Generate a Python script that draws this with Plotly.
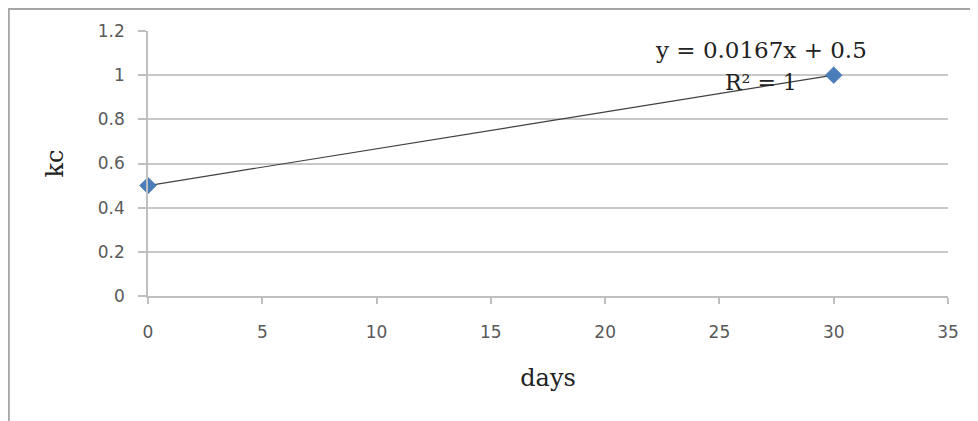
import numpy as np
import plotly.graph_objects as go

days = [0, 30]
kc = [0.5, 1.0]
x_ticks = [0, 5, 10, 15, 20, 25, 30, 35]
y_ticks = [0, 0.2, 0.4, 0.6, 0.8, 1.0, 1.2]

slope, intercept = np.polyfit(days, kc, 1)
r2 = 1.0
fit_x = [min(days), max(days)]
fit_y = [slope * v + intercept for v in fit_x]

fig = go.Figure()
fig.add_trace(go.Scatter(x=fit_x, y=fit_y, mode="lines",
                         line=dict(color="#3f3f3f", width=1.2), hoverinfo="skip"))
fig.add_trace(go.Scatter(x=days, y=kc, mode="markers", cliponaxis=False,
                         marker=dict(symbol="diamond", size=13, color="#4a7ebb",
                                     line=dict(color="#3d6fae", width=0.5))))

fig.add_annotation(x=26.8, y=1.114, xref="x", yref="y",
                   text=f"y = {slope:.4f}x + {intercept:.1f}", showarrow=False,
                   font=dict(family="DejaVu Serif", size=23, color="#222222"))
fig.add_annotation(x=26.8, y=0.969, xref="x", yref="y",
                   text=f"R² = {r2:g}", showarrow=False,
                   font=dict(family="DejaVu Serif", size=22, color="#222222"))

# outer chart frame
fig.add_shape(type="rect", xref="paper", yref="paper",
              x0=-0.174, x1=1.06, y0=-0.6, y1=1.083,
              line=dict(color="#a6a6a6", width=2), layer="below")

fig.update_layout(
    width=970, height=413,
    margin=dict(l=140, r=30, t=23, b=125),
    paper_bgcolor="white", plot_bgcolor="white",
    showlegend=False,
    xaxis=dict(range=[0, 35], tickvals=x_ticks, showgrid=False, zeroline=False,
               showline=True, linecolor="#bfbfbf", linewidth=1.5,
               ticks="outside", ticklen=6, tickcolor="#bfbfbf", tickwidth=1.5,
               ticklabelstandoff=14,
               tickfont=dict(family="DejaVu Sans", size=17, color="#595959"),
               title=dict(text="days", standoff=28,
                          font=dict(family="DejaVu Serif", size=24, color="#222222"))),
    yaxis=dict(range=[0, 1.2], tickvals=y_ticks, showgrid=True, gridcolor="#c8c8c8",
               gridwidth=1.5, zeroline=False,
               showline=True, linecolor="#bfbfbf", linewidth=1.5,
               ticks="outside", ticklen=8, tickcolor="#bfbfbf", tickwidth=1.5,
               ticklabelstandoff=10,
               tickfont=dict(family="DejaVu Sans", size=17, color="#595959"),
               title=dict(text="kc", standoff=27,
                          font=dict(family="DejaVu Serif", size=24, color="#222222"))),
)

fig.write_html("out.html")
